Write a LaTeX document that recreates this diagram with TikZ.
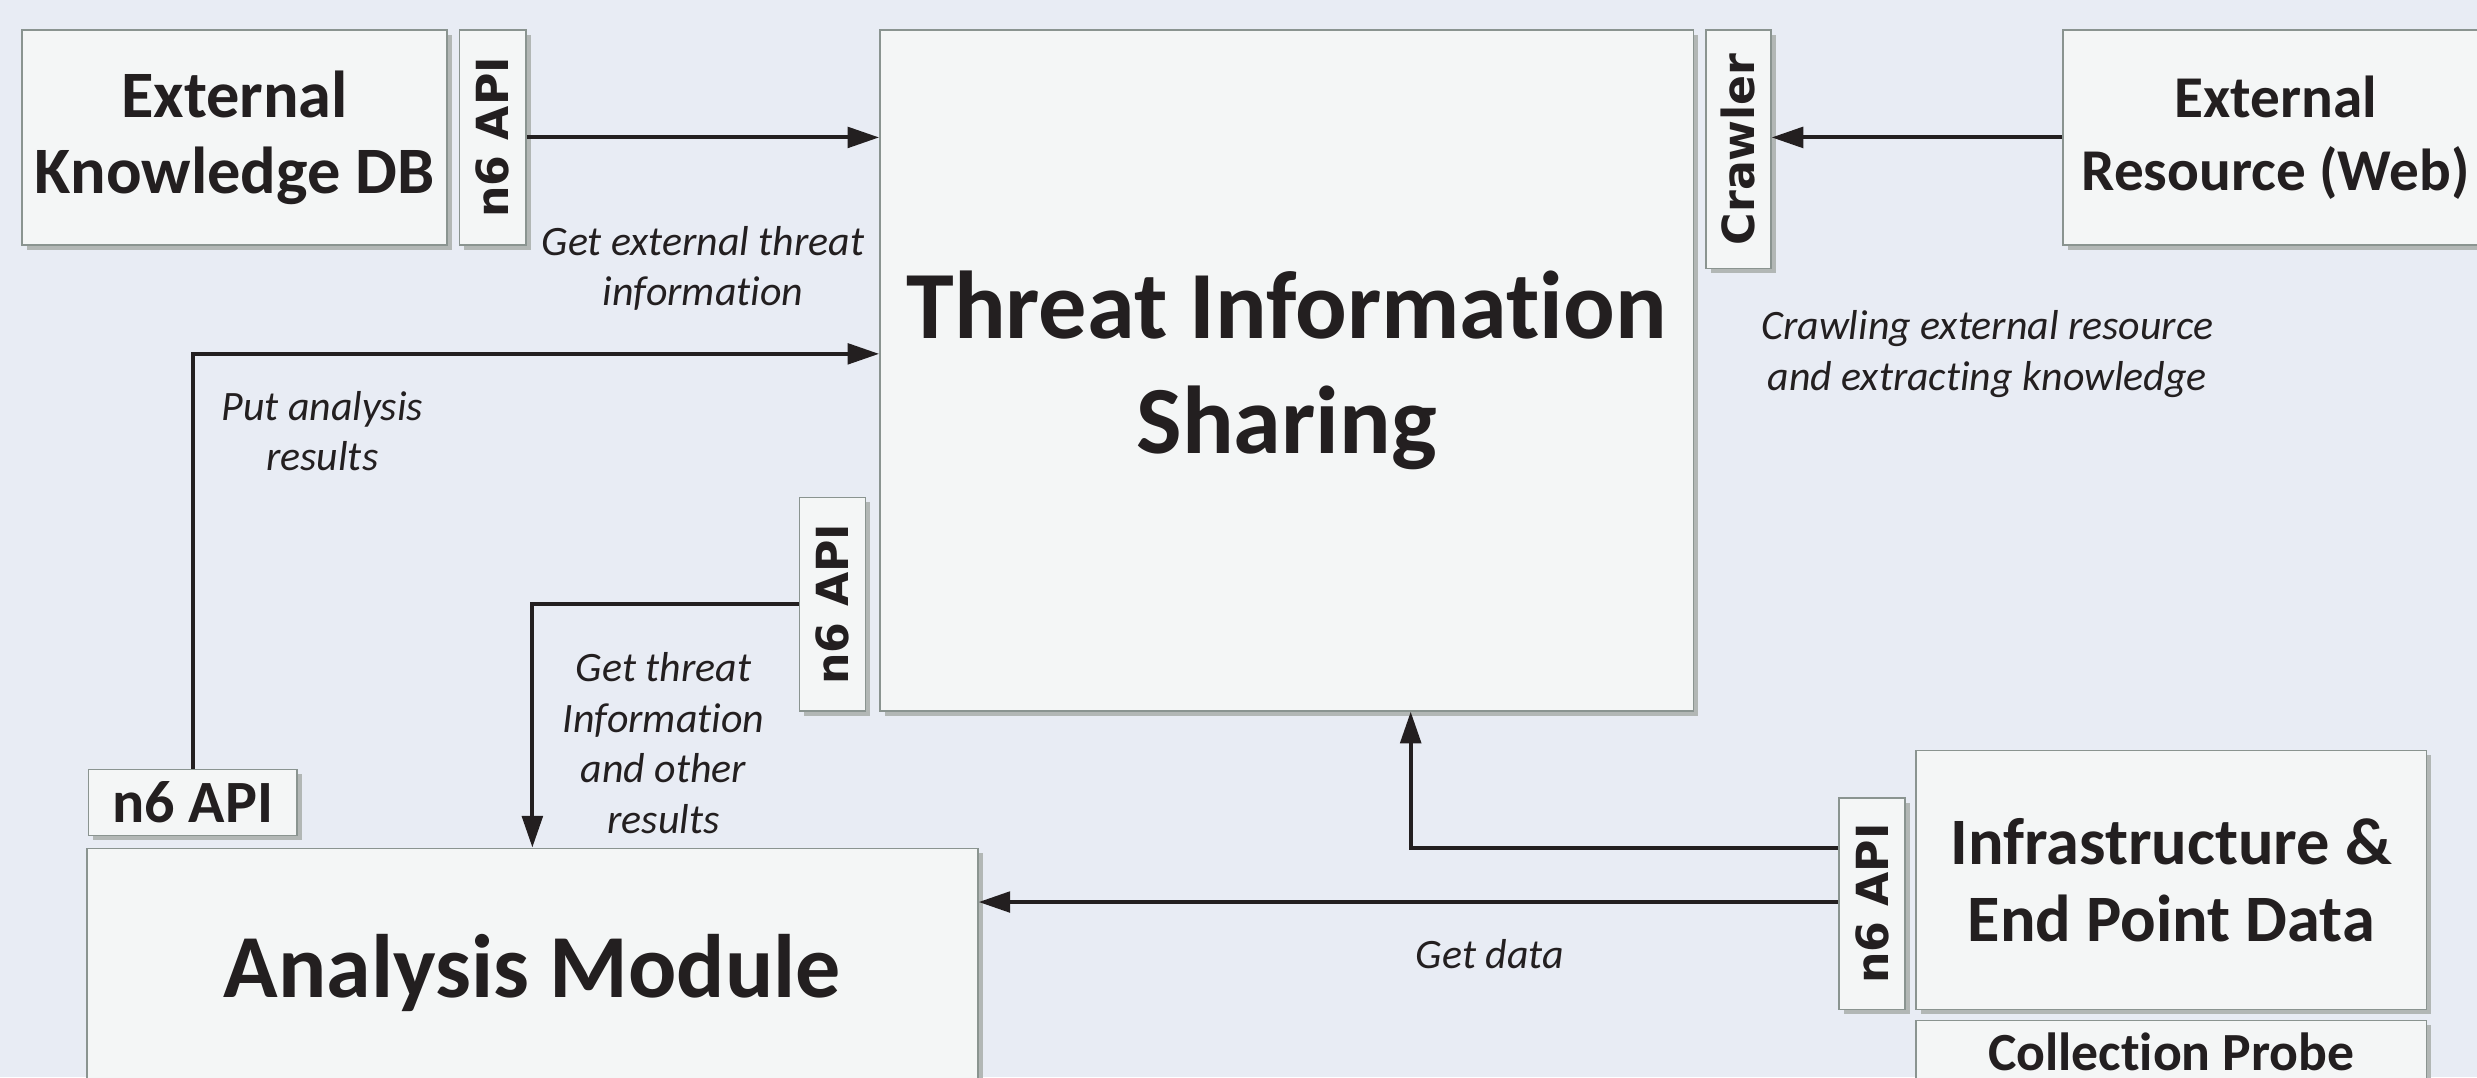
\documentclass[tikz,border=0pt]{standalone}
\usepackage{fontspec}
\setmainfont{Carlito}[Ligatures=NoCommon]
\newfontfamily\tagfont{DejaVu Sans}
\usetikzlibrary{arrows.meta,shadows,calc}

\definecolor{bg}{RGB}{232,236,244}
\definecolor{boxfill}{RGB}{244,246,246}
\definecolor{boxline}{RGB}{138,148,144}
\definecolor{shadowc}{RGB}{178,183,181}
\definecolor{ink}{RGB}{35,31,32}

\tikzset{
  box/.style={rectangle, draw=boxline, fill=boxfill, line width=1pt,
    inner sep=0pt, text=ink, align=center,
    drop shadow={shadow xshift=3pt, shadow yshift=-3pt, fill=shadowc, opacity=1}},
  bigtext/.style={font=\bfseries\fontsize{61}{73}\selectfont},
  amtext/.style={font=\bfseries\fontsize{57}{68}\selectfont},
  kbtext/.style={font=\bfseries\fontsize{42}{48}\selectfont},
  webtext/.style={font=\bfseries\fontsize{37.5}{46}\selectfont},
  infratext/.style={font=\bfseries\fontsize{42}{49}\selectfont},
  probetext/.style={font=\bfseries\fontsize{34}{40}\selectfont},
  apitext/.style={font=\bfseries\fontsize{38}{40}\selectfont},
  tagtext/.style={font=\tagfont\bfseries\fontsize{28}{30}\selectfont},
  lbl/.style={font=\itshape\fontsize{26.5}{32}\selectfont, text=ink, align=center},
  arr/.style={draw=ink, line width=2.5pt, -{Triangle[length=20pt,width=13pt]}}
}

\begin{document}
\begin{tikzpicture}[x=1pt,y=-1pt]
\useasboundingbox (0,0) rectangle (1568,682);
\clip (0,0) rectangle (1568,682);
\fill[bg] (0,0) rectangle (1568,682);

% boxes
\node[box, minimum width=269pt, minimum height=136pt, kbtext] (ekdb) at (148.5,87) {\raisebox{-2pt}{\parbox{260pt}{\centering External\\Knowledge DB}}};
\node[box, minimum width=42pt, minimum height=136pt, tagtext] (n6a) at (312,87) {\rotatebox{90}{n6 API}};
\node[box, minimum width=515pt, minimum height=431pt, bigtext] (tis) at (814.5,234.5) {\raisebox{-3pt}{\parbox{500pt}{\centering Threat Information\\Sharing}}};
\node[box, minimum width=41pt, minimum height=151pt, tagtext] (crawl) at (1100.5,94.5) {\rotatebox{90}{Crawler}};
\node[box, minimum width=269pt, minimum height=136pt, webtext] (extres) at (1440.5,87) {\raisebox{-2pt}{\parbox{265pt}{\centering External\\Resource (Web)}}};
\node[box, minimum width=42pt, minimum height=135pt, tagtext] (n6b) at (527,382.5) {\rotatebox{90}{n6 API}};
\node[box, minimum width=132pt, minimum height=42pt, apitext] (n6h) at (122,508) {n6 API};
\node[box, minimum width=564pt, minimum height=158pt, amtext] (am) at (337,616) {Analysis Module};
\node[box, minimum width=42pt, minimum height=134pt, tagtext] (n6r) at (1185,572) {\rotatebox{90}{n6 API}};
\node[box, minimum width=323pt, minimum height=164pt, infratext] (infra) at (1374.5,557) {Infrastructure \&\\End Point Data};
\node[box, minimum width=323pt, minimum height=42pt, probetext] (probe) at (1374.5,667) {\raisebox{2pt}{Collection Probe}};

% connector labels
\node[lbl] (l1) at (445,170) {Get external threat\\information};
\node[lbl] (l2) at (1258,224) {Crawling external resource\\and extracting knowledge};
\node[lbl] (l3) at (204,273) {Put analysis\\results};
\node[lbl] (l4) at (420,470.5) {Get threat\\Information\\and other\\results};
\node[lbl] (l5) at (943,604) {Get data};

% connectors
\draw[arr] (n6a.east) -- (n6a.east -| tis.west);
\draw[arr] (extres.west) -- (extres.west -| crawl.east);
\draw[arr] (n6h.north) |- (tis.west |- 0,224);
\draw[arr] (n6b.west) -| (am.north);
\draw[arr] (n6r.west |- 0,537) -| (tis.south -| 893,0);
\draw[arr] (n6r.west |- 0,571) -- (am.east |- 0,571);
\end{tikzpicture}
\end{document}
